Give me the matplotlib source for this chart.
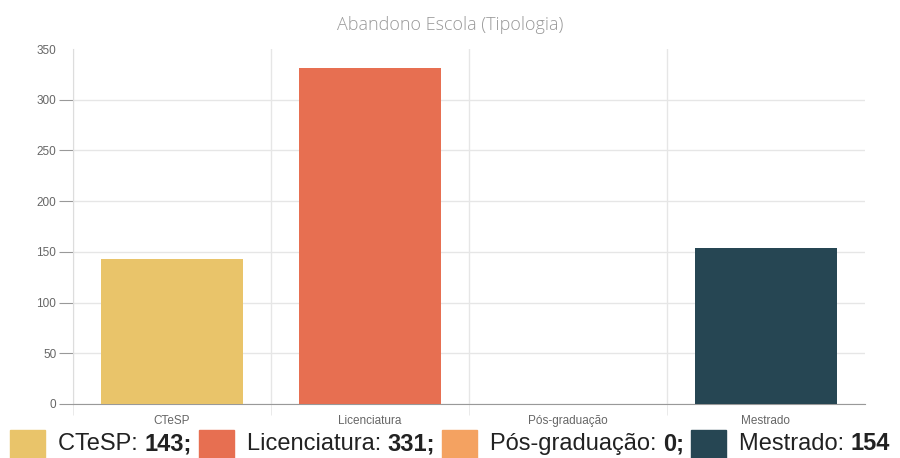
import matplotlib.pyplot as plt
from matplotlib.patches import Rectangle
import numpy as np

categories = ['CTeSP', 'Licenciatura', 'Pós-graduação', 'Mestrado']
values = [143, 331, 0, 154]
colors = ['#E9C46A', '#E76F51', '#F4A261', '#264653']
yticks = [0, 50, 100, 150, 200, 250, 300, 350]

plt.rcParams['font.family'] = ['Liberation Sans', 'DejaVu Sans']

fig = plt.figure(figsize=(9, 4.58), dpi=100)
ax = fig.add_axes([73/900, 54/458, 792/900, 355/458])

x = np.arange(len(categories))
ax.bar(x, values, width=0.72, color=colors, zorder=3)

ax.set_xlim(-0.5, len(categories) - 0.5)
ax.set_ylim(0, 350)
ax.set_yticks(yticks)
ax.set_xticks(x)
ax.set_xticklabels(categories)
ax.set_xticks(np.arange(len(categories)) - 0.5, minor=True)

ax.grid(axis='y', color='#e6e6e6', lw=1, zorder=0)
ax.grid(axis='x', which='minor', color='#e6e6e6', lw=1, zorder=0)
ax.tick_params(axis='y', length=10, color='#999999', labelsize=8.5, labelcolor='#666666', pad=2)
ax.tick_params(axis='x', which='major', length=0, labelsize=8.5, labelcolor='#666666', pad=8)
ax.tick_params(axis='x', which='minor', length=8, color='#e6e6e6')
for s in ['top', 'right']:
    ax.spines[s].set_visible(False)
ax.spines['left'].set_color('#dddddd')
ax.spines['bottom'].set_color('#999999')
# sem linha nem traço no topo (350)
ax.get_ygridlines()[-1].set_visible(False)
ax.yaxis.get_major_ticks()[-1].tick1line.set_visible(False)

fig.text(0.5, 1 - 25/458, 'Abandono Escola (Tipologia)', ha='center', va='center',
         fontsize=13, color='#999999', family=['Open Sans', 'DejaVu Sans'], fontweight='light')

# legenda em baixo, com o valor a negrito
renderer = fig.canvas.get_renderer()
xpos = 10
ytxt = 444
for cat, v, c, i in zip(categories, values, colors, range(len(categories))):
    fig.patches.append(Rectangle((xpos/900, 0), 35/900, 28/458,
                                 transform=fig.transFigure, color=c, figure=fig))
    xpos += 48
    t1 = fig.text(xpos/900, 1 - ytxt/458, cat + ': ', fontsize=17, color='#222222', va='center')
    xpos += t1.get_window_extent(renderer).width
    sep = ';' if i < len(categories) - 1 else ''
    t2 = fig.text(xpos/900, 1 - ytxt/458, str(v) + sep, fontsize=17, color='#222222',
                  va='center', fontweight='bold')
    xpos += t2.get_window_extent(renderer).width + 7

fig.savefig('out.png', dpi=100)
